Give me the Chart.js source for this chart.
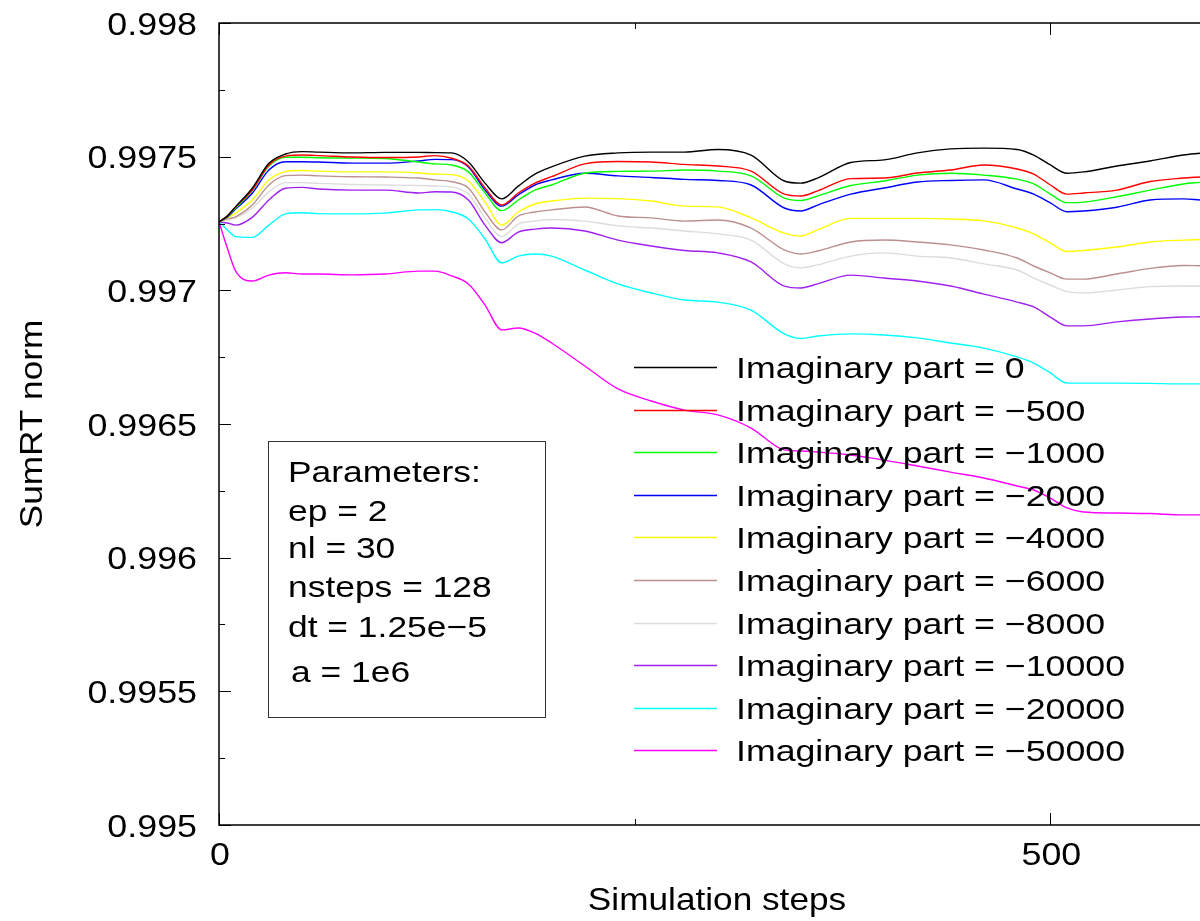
<!DOCTYPE html>
<html>
<head>
<meta charset="utf-8">
<title>SumRT norm</title>
<script src="https://cdn.jsdelivr.net/npm/chart.js@4.4.1/dist/chart.umd.min.js"></script>
<style>
  html, body { margin: 0; padding: 0; background: #fff; }
  #wrap { width: 1200px; height: 921px; }
</style>
</head>
<body>
<div id="wrap"><canvas id="chart" width="1200" height="921"></canvas></div>
<script>
// simulation step at which each value was read
const steps = [0, 5, 10, 20, 30, 40, 50, 60, 80, 100, 120, 130, 140, 150, 160, 170, 180, 190, 200,
    220, 240, 260, 280, 300, 320, 340, 350, 360, 380, 400, 420, 440, 460, 480, 490, 500, 510, 520,
    540, 560, 580, 590];

const imag0 = [0.997256, 0.997278, 0.997313, 0.997382, 0.997475, 0.997510, 0.997519, 0.997517, 0.997514,
    0.997516, 0.997516, 0.997515, 0.997514, 0.997480, 0.997401, 0.997342, 0.997390, 0.997435, 0.997462,
    0.997502, 0.997514, 0.997517, 0.997517, 0.997527, 0.997506, 0.997409, 0.997401, 0.997420, 0.997478,
    0.997488, 0.997514, 0.997529, 0.997532, 0.997527, 0.997506, 0.997469, 0.997438, 0.997443, 0.997465,
    0.997484, 0.997506, 0.997513];
const imag500 = [0.997256, 0.997278, 0.997312, 0.997375, 0.997469, 0.997502, 0.997506, 0.997504, 0.997499,
    0.997497, 0.997499, 0.997504, 0.997494, 0.997465, 0.997383, 0.997319, 0.997364, 0.997401, 0.997425,
    0.997473, 0.997482, 0.997480, 0.997471, 0.997465, 0.997446, 0.997360, 0.997353, 0.997372, 0.997418,
    0.997420, 0.997439, 0.997450, 0.997469, 0.997454, 0.997435, 0.997394, 0.997360, 0.997364, 0.997375,
    0.997407, 0.997420, 0.997424];
const imag1000 = [0.997256, 0.997276, 0.997308, 0.997373, 0.997465, 0.997498, 0.997498, 0.997496, 0.997495,
    0.997493, 0.997480, 0.997473, 0.997469, 0.997443, 0.997364, 0.997298, 0.997338, 0.997375, 0.997394,
    0.997438, 0.997445, 0.997446, 0.997450, 0.997446, 0.997428, 0.997345, 0.997336, 0.997353, 0.997392,
    0.997409, 0.997431, 0.997438, 0.997431, 0.997416, 0.997398, 0.997360, 0.997328, 0.997330, 0.997350,
    0.997375, 0.997398, 0.997404];
const imag2000 = [0.997256, 0.997274, 0.997304, 0.997363, 0.997450, 0.997481, 0.997481, 0.997480, 0.997476,
    0.997476, 0.997484, 0.997490, 0.997489, 0.997461, 0.997375, 0.997315, 0.997357, 0.997394, 0.997413,
    0.997438, 0.997428, 0.997422, 0.997415, 0.997411, 0.997394, 0.997308, 0.997297, 0.997319, 0.997360,
    0.997383, 0.997405, 0.997411, 0.997413, 0.997379, 0.997360, 0.997327, 0.997294, 0.997297, 0.997311,
    0.997338, 0.997342, 0.997338];
const imag4000 = [0.997256, 0.997271, 0.997289, 0.997338, 0.997413, 0.997444, 0.997448, 0.997446, 0.997443,
    0.997443, 0.997439, 0.997435, 0.997433, 0.997409, 0.997330, 0.997244, 0.997293, 0.997323, 0.997334,
    0.997345, 0.997343, 0.997334, 0.997315, 0.997312, 0.997271, 0.997214, 0.997203, 0.997226, 0.997269,
    0.997269, 0.997269, 0.997267, 0.997260, 0.997233, 0.997211, 0.997177, 0.997145, 0.997149, 0.997162,
    0.997181, 0.997188, 0.997190];
const imag6000 = [0.997256, 0.997267, 0.997275, 0.997319, 0.997394, 0.997429, 0.997431, 0.997428, 0.997425,
    0.997424, 0.997420, 0.997413, 0.997406, 0.997383, 0.997293, 0.997226, 0.997278, 0.997293, 0.997301,
    0.997312, 0.997278, 0.997271, 0.997259, 0.997263, 0.997233, 0.997151, 0.997136, 0.997147, 0.997181,
    0.997188, 0.997181, 0.997170, 0.997151, 0.997121, 0.997091, 0.997065, 0.997042, 0.997042, 0.997061,
    0.997082, 0.997093, 0.997092];
const imag8000 = [0.997256, 0.997263, 0.997271, 0.997307, 0.997369, 0.997403, 0.997403, 0.997400, 0.997396,
    0.997394, 0.997392, 0.997390, 0.997387, 0.997360, 0.997271, 0.997201, 0.997248, 0.997259, 0.997265,
    0.997259, 0.997241, 0.997233, 0.997222, 0.997211, 0.997188, 0.997099, 0.997084, 0.997095, 0.997128,
    0.997140, 0.997128, 0.997121, 0.997099, 0.997076, 0.997046, 0.997020, 0.996995, 0.996990, 0.997001,
    0.997014, 0.997016, 0.997016];
const imag10000 = [0.997256, 0.997252, 0.997244, 0.997273, 0.997338, 0.997382, 0.997385, 0.997379, 0.997375,
    0.997375, 0.997364, 0.997369, 0.997368, 0.997338, 0.997244, 0.997178, 0.997218, 0.997229, 0.997233,
    0.997222, 0.997188, 0.997166, 0.997149, 0.997140, 0.997106, 0.997016, 0.997009, 0.997024, 0.997057,
    0.997046, 0.997035, 0.997016, 0.996986, 0.996956, 0.996938, 0.996900, 0.996867, 0.996867, 0.996882,
    0.996893, 0.996900, 0.996901];
const imag20000 = [0.997256, 0.997226, 0.997201, 0.997198, 0.997244, 0.997286, 0.997290, 0.997287, 0.997286,
    0.997289, 0.997301, 0.997302, 0.997294, 0.997267, 0.997192, 0.997103, 0.997128, 0.997136, 0.997128,
    0.997076, 0.997024, 0.996990, 0.996964, 0.996956, 0.996926, 0.996837, 0.996820, 0.996829, 0.996837,
    0.996833, 0.996822, 0.996803, 0.996784, 0.996751, 0.996728, 0.996691, 0.996653, 0.996653, 0.996653,
    0.996652, 0.996650, 0.996650];
const imag50000 = [0.997256, 0.997158, 0.997072, 0.997035, 0.997057, 0.997066, 0.997061, 0.997061, 0.997058,
    0.997061, 0.997072, 0.997072, 0.997054, 0.997024, 0.996945, 0.996852, 0.996859, 0.996840, 0.996803,
    0.996717, 0.996631, 0.996586, 0.996552, 0.996534, 0.996485, 0.996403, 0.996399, 0.996395, 0.996384,
    0.996365, 0.996343, 0.996320, 0.996298, 0.996268, 0.996253, 0.996223, 0.996186, 0.996171, 0.996167,
    0.996165, 0.996160, 0.996160];

const seriesValues = [imag0, imag500, imag1000, imag2000, imag4000, imag6000, imag8000, imag10000, imag20000, imag50000];
const seriesLabels = ['Imaginary part = 0', 'Imaginary part = \u2212500', 'Imaginary part = \u22121000',
    'Imaginary part = \u22122000', 'Imaginary part = \u22124000', 'Imaginary part = \u22126000',
    'Imaginary part = \u22128000', 'Imaginary part = \u221210000', 'Imaginary part = \u221220000',
    'Imaginary part = \u221250000'];
const seriesColors = ['#000000', '#ff0000', '#00ff00', '#0000ff', '#ffff00', '#bc8f8f', '#dcdcdc', '#a020f0', '#00ffff', '#ff00ff'];

const xTicks = [0, 500];
const xTickLabels = ['0', '500'];
const xMinorTicks = [250];
const yTicks = [0.995, 0.9955, 0.996, 0.9965, 0.997, 0.9975, 0.998];
const yTickLabels = ['0.995', '0.9955', '0.996', '0.9965', '0.997', '0.9975', '0.998'];
const yMinorTicks = [0.99525, 0.99575, 0.99625, 0.99675, 0.99725, 0.99775];
const paramLines = ['Parameters:', 'ep = 2', 'nl = 30', 'nsteps = 128', 'dt = 1.25e\u22125', 'a = 1e6'];

const FONT = '"Liberation Sans", Arial, Helvetica, sans-serif';

// the picture's lettering is a bit wider than Arial, so stretch it sideways
function drawText(ctx, text, x, y, size, sx, align) {
    ctx.save();
    ctx.font = size + 'px ' + FONT;
    ctx.fillStyle = '#000';
    ctx.textAlign = align || 'left';
    ctx.textBaseline = 'alphabetic';
    ctx.translate(x, y);
    ctx.scale(sx, 1);
    ctx.fillText(text, 0, 0);
    ctx.restore();
}

function hLine(ctx, x1, x2, y) {
    ctx.beginPath();
    ctx.moveTo(x1, y);
    ctx.lineTo(x2, y);
    ctx.stroke();
}

function vLine(ctx, x, y1, y2) {
    ctx.beginPath();
    ctx.moveTo(x, y1);
    ctx.lineTo(x, y2);
    ctx.stroke();
}

const decorations = {
    id: 'decorations',
    afterDatasetsDraw(chart) {
        const ctx = chart.ctx;
        const area = chart.chartArea;
        const xs = chart.scales.x;
        const ys = chart.scales.y;
        ctx.save();

        // frame (the right edge lies outside the picture)
        ctx.strokeStyle = '#000';
        ctx.lineWidth = 1.5;
        ctx.beginPath();
        ctx.moveTo(area.right + 2, area.top);
        ctx.lineTo(area.left, area.top);
        ctx.lineTo(area.left, area.bottom);
        ctx.lineTo(area.right + 2, area.bottom);
        ctx.stroke();

        // inward ticks
        ctx.lineWidth = 1;
        yTicks.forEach(v => {
            const y = Math.round(ys.getPixelForValue(v)) + 0.5;
            hLine(ctx, area.left, area.left + 12, y);
        });
        yMinorTicks.forEach(v => {
            const y = Math.round(ys.getPixelForValue(v)) + 0.5;
            hLine(ctx, area.left, area.left + 6, y);
        });
        xTicks.forEach(v => {
            const x = Math.round(xs.getPixelForValue(v)) + 0.5;
            vLine(ctx, x, area.bottom, area.bottom - 12);
            vLine(ctx, x, area.top, area.top + 12);
        });
        xMinorTicks.forEach(v => {
            const x = Math.round(xs.getPixelForValue(v)) + 0.5;
            vLine(ctx, x, area.bottom, area.bottom - 6);
            vLine(ctx, x, area.top, area.top + 6);
        });

        // tick labels
        yTicks.forEach((v, i) => {
            drawText(ctx, yTickLabels[i], 197, ys.getPixelForValue(v) + 11.5, 32, 1.12, 'right');
        });
        xTicks.forEach((v, i) => {
            drawText(ctx, xTickLabels[i], xs.getPixelForValue(v) + 1, area.bottom + 40, 32, 1.12, 'center');
        });

        // axis titles
        drawText(ctx, 'Simulation steps', 717, 910, 32, 1.1, 'center');
        ctx.save();
        ctx.translate(42, 424);
        ctx.rotate(-Math.PI / 2);
        drawText(ctx, 'SumRT norm', 0, 0, 32, 1.1, 'center');
        ctx.restore();

        // legend
        chart.data.datasets.forEach((ds, i) => {
            const y = 367 + i * 42.6;
            ctx.strokeStyle = ds.borderColor;
            ctx.lineWidth = 1.3;
            hLine(ctx, 634, 717, Math.round(y) + 0.5);
            drawText(ctx, ds.label, 736, y + 11, 30, 1.19, 'left');
        });

        // parameter box
        ctx.strokeStyle = '#333';
        ctx.lineWidth = 1;
        ctx.strokeRect(268.5, 441.5, 277, 276);
        const baselines = [482, 521, 558, 597, 637, 682];
        paramLines.forEach((t, i) => {
            drawText(ctx, t, i === 5 ? 291 : 288, baselines[i], 30, 1.18, 'left');
        });

        ctx.restore();
    }
};

const datasets = seriesValues.map((vals, i) => ({
    label: seriesLabels[i],
    data: steps.map((s, j) => ({ x: s, y: vals[j] })),
    borderColor: seriesColors[i],
    backgroundColor: seriesColors[i],
    borderWidth: 1.4,
    pointRadius: 0,
    fill: false,
    cubicInterpolationMode: 'monotone'
}));

new Chart(document.getElementById('chart').getContext('2d'), {
    type: 'line',
    data: { datasets: datasets },
    options: {
        responsive: false,
        devicePixelRatio: 1,
        animation: false,
        layout: { padding: { top: 23, left: 0, right: 0, bottom: 0 } },
        plugins: {
            legend: { display: false },
            tooltip: { enabled: false }
        },
        scales: {
            x: {
                type: 'linear',
                min: 0,
                max: 590,
                grid: { display: false },
                border: { display: false },
                ticks: { display: false },
                afterFit: scale => { scale.height = 96; }
            },
            y: {
                type: 'linear',
                min: 0.995,
                max: 0.998,
                grid: { display: false },
                border: { display: false },
                ticks: { display: false },
                afterFit: scale => { scale.width = 219; }
            }
        }
    },
    plugins: [decorations]
});
</script>
</body>
</html>
